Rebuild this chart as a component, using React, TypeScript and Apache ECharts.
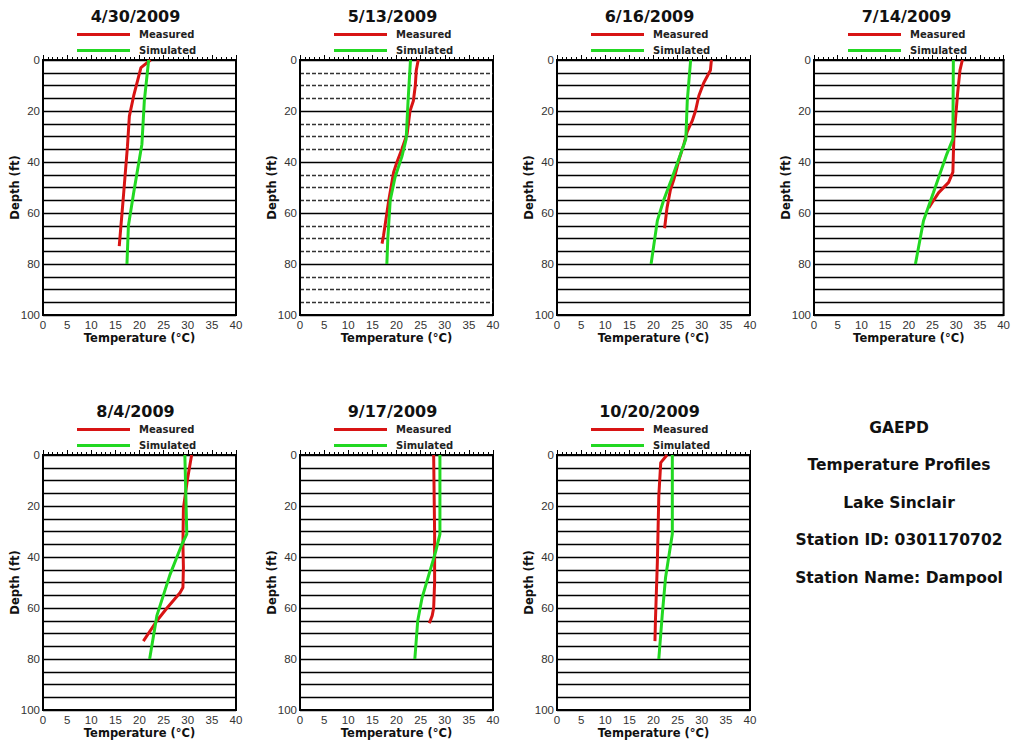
import React, { useEffect, useRef } from "react";
import * as echarts from "echarts";

const dates = ["4/30/2009", "5/13/2009", "6/16/2009", "7/14/2009", "8/4/2009", "9/17/2009", "10/20/2009"];

const measured0430 = [[22.3, 0], [20.3, 3], [18.8, 14], [17.9, 22], [17.5, 34], [16.6, 55], [15.8, 73]];
const simulated0430 = [[21.9, 0], [21.0, 16], [20.5, 33], [18.8, 52], [17.7, 65], [17.4, 80]];

const measured0513 = [[24.5, 0], [24.1, 4], [23.9, 10], [23.5, 16], [22.8, 20], [22.2, 29], [21.1, 35], [20.1, 40], [19.4, 44], [18.4, 55], [17.3, 69], [17.0, 72]];
const simulated0513 = [[22.9, 0], [22.4, 16], [22.0, 31], [21.1, 38], [19.7, 46], [18.7, 55], [18.2, 70], [18.0, 80]];

const measured0616 = [[32.0, 0], [31.8, 4], [30.4, 9], [29.4, 14], [28.7, 20], [28.0, 24], [27.0, 28], [26.3, 33], [25.3, 39], [24.2, 47], [23.5, 51], [22.8, 58], [22.3, 66]];
const simulated0616 = [[27.7, 0], [27.0, 16], [26.7, 31], [25.6, 37], [23.5, 48], [22.1, 55], [20.8, 63], [19.5, 80]];

const measured0714 = [[31.3, 0], [30.8, 4], [30.3, 13], [29.5, 31], [29.4, 37], [29.3, 44], [28.4, 48], [26.3, 52], [24.9, 56], [24.2, 58]];
const simulated0714 = [[29.4, 0], [29.3, 31], [28.0, 37], [25.2, 52], [23.1, 63], [21.4, 80]];

const measured0804 = [[30.8, 0], [29.9, 10], [29.1, 21], [29.0, 35], [29.1, 44], [29.0, 52], [28.4, 54], [25.7, 60], [23.6, 65], [20.8, 73]];
const simulated0804 = [[29.4, 0], [29.8, 31], [28.8, 35], [26.3, 47], [23.6, 63], [22.1, 80]];

const measured0917 = [[27.7, 0], [27.9, 31], [27.9, 50], [27.7, 60], [27.4, 63], [26.8, 66]];
const simulated0917 = [[29.0, 0], [29.0, 31], [28.1, 38], [26.7, 47], [25.3, 56], [24.4, 65], [23.8, 80]];

const measured1020 = [[22.8, 0], [21.5, 3], [21.1, 16], [20.8, 42], [20.4, 65], [20.3, 73]];
const simulated1020 = [[23.9, 0], [23.9, 31], [22.5, 48], [21.8, 63], [21.1, 80]];

const measuredAll = [measured0430, measured0513, measured0616, measured0714, measured0804, measured0917, measured1020];
const simulatedAll = [simulated0430, simulated0513, simulated0616, simulated0714, simulated0804, simulated0917, simulated1020];

const infoLines = ["GAEPD", "Temperature Profiles", "Lake Sinclair", "Station ID: 0301170702", "Station Name: Dampool"];

const FONT = "'DejaVu Sans', Verdana, sans-serif";
const FONT_TICK = "'Liberation Sans', Arial, sans-serif";
const RED = "#d81414";
const GREEN = "#22d822";

export default function App() {
  const ref = useRef<HTMLDivElement>(null);

  useEffect(() => {
    if (!ref.current) return;
    const chart = echarts.init(ref.current, undefined, { renderer: "svg" });

    const colLeft = [43, 300, 557, 814];
    const rowTop = [60, 455];
    const W = 193;
    const H = 255;

    const grids: any[] = [];
    const xAxes: any[] = [];
    const yAxes: any[] = [];
    const series: any[] = [];
    const titles: any[] = [];
    const legends: any[] = [];

    dates.forEach((d, i) => {
      const row = i < 4 ? 0 : 1;
      const col = i < 4 ? i : i - 4;
      const left = colLeft[col];
      const top = rowTop[row];
      grids.push({ left, top, width: W, height: H, show: true, borderColor: "#000", borderWidth: 2, backgroundColor: "#fff" });
      xAxes.push({
        type: "value",
        gridIndex: i,
        min: 0,
        max: 40,
        interval: 5,
        position: "bottom",
        name: "Temperature (°C)",
        nameLocation: "middle",
        nameGap: 17,
        nameMoveOverlap: false,
        nameTextStyle: { fontFamily: FONT, fontWeight: "bold", fontSize: 11.5, color: "#111" },
        axisLine: { show: true, lineStyle: { color: "#000", width: 2 } },
        axisTick: { show: true, inside: true, length: 5, lineStyle: { color: "#000", width: 1 } },
        minorTick: { show: true, splitNumber: 5, length: 3, lineStyle: { color: "#000", width: 1 } },
        splitLine: { show: false },
        axisLabel: { fontFamily: FONT_TICK, fontSize: 11.5, color: "#333", margin: 4 },
      });
      const dashed = i === 1;
      yAxes.push({
        type: "value",
        gridIndex: i,
        min: 0,
        max: 100,
        interval: 20,
        inverse: true,
        name: "Depth (ft)",
        nameLocation: "middle",
        nameGap: 22,
        nameMoveOverlap: false,
        nameRotate: 90,
        nameTextStyle: { fontFamily: FONT, fontWeight: "bold", fontSize: 11.5, color: "#111" },
        axisLine: { show: true, lineStyle: { color: "#000", width: 2 } },
        axisTick: { show: false },
        minorTick: { show: false, splitNumber: 4 },
        splitLine: { show: true, lineStyle: { color: "#000", width: 1.3 } },
        minorSplitLine: { show: true, lineStyle: { color: dashed ? "#333" : "#000", width: 1.3, type: dashed ? [4, 2] : "solid" } },
        axisLabel: { fontFamily: FONT_TICK, fontSize: 11.5, color: "#333", margin: 3 },
      });
      series.push({
        name: "Measured",
        type: "line",
        xAxisIndex: i,
        yAxisIndex: i,
        data: measuredAll[i],
        symbol: "none",
        lineStyle: { color: RED, width: 3 },
        itemStyle: { color: RED },
        z: 3,
      });
      series.push({
        name: "Simulated",
        type: "line",
        xAxisIndex: i,
        yAxisIndex: i,
        data: simulatedAll[i],
        symbol: "none",
        lineStyle: { color: GREEN, width: 3 },
        itemStyle: { color: GREEN },
        z: 4,
      });
      titles.push({
        text: d,
        left: left + W / 2 - 4,
        textAlign: "center",
        top: top - 52,
        padding: 0,
        textStyle: { fontFamily: FONT, fontWeight: "bold", fontSize: 16, color: "#111" },
      });
      legends.push({
        data: ["Measured", "Simulated"],
        orient: "vertical",
        left: left + 34,
        top: top - 32,
        padding: 0,
        itemGap: 3,
        itemWidth: 53,
        itemHeight: 3,
        icon: "rect",
        selectedMode: false,
        textStyle: { fontFamily: FONT, fontWeight: "bold", fontSize: 10, color: "#222", lineHeight: 13, padding: [0, 0, 0, 4] },
      });
    });

    const infoY = [428, 465, 503, 540, 578];
    const graphics = infoLines.map((t, k) => ({
      type: "text",
      x: 899,
      y: infoY[k],
      style: {
        text: t,
        fill: "#111",
        font: `bold 15.5px ${FONT}`,
        textAlign: "center",
        textVerticalAlign: "middle",
      },
    }));

    chart.setOption({
      animation: false,
      backgroundColor: "#fff",
      title: titles,
      legend: legends,
      grid: grids,
      xAxis: xAxes,
      yAxis: yAxes,
      series,
      graphic: graphics,
    });

    return () => chart.dispose();
  }, []);

  return <div ref={ref} style={{ position: "fixed", left: 0, top: 0, width: 1013, height: 744 }} />;
}
